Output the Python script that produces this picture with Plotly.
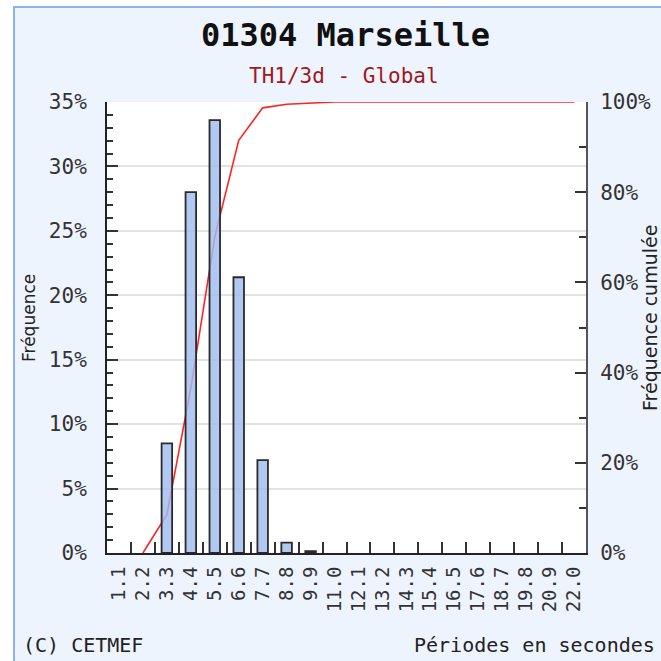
import plotly.graph_objects as go

# ---- data ----
periods = ["1.1", "2.2", "3.3", "4.4", "5.5", "6.6", "7.7", "8.8", "9.9", "11.0",
           "12.1", "13.2", "14.3", "15.4", "16.5", "17.6", "18.7", "19.8", "20.9", "22.0"]
frequency = [0, 0, 8.5, 28.0, 33.6, 21.4, 7.2, 0.8, 0.15, 0,
             0, 0, 0, 0, 0, 0, 0, 0, 0, 0]
cumulative = [None, 0, 8.5, 36.5, 70.1, 91.5, 98.7, 99.5, 99.8, 100,
              100, 100, 100, 100, 100, 100, 100, 100, 100, 100]
left_ticks = [0, 5, 10, 15, 20, 25, 30, 35]
right_ticks = [0, 20, 40, 60, 80, 100]

title_text = "01304 Marseille"
subtitle_text = "TH1/3d - Global"
left_title = "Fréquence"
right_title = "Fréquence cumulée"
footer_left = "(C) CETMEF"
footer_right = "Périodes en secondes"

# ---- layout geometry (pixels) ----
W = H = 661
L, R, T, B = 107, 586, 102, 553
pw, ph = R - L, B - T


def px(x):
    return (x - L) / pw


def py(y):
    return (B - y) / ph


MONO = "DejaVu Sans Mono"
SANS = "DejaVu Sans"
AX = "#333333"

# empty classes draw no bar at all
bar_values = [v if v > 0 else None for v in frequency]

fig = go.Figure()

fig.add_trace(go.Scatter(
    x=periods, y=cumulative, mode="lines", yaxis="y",
    line=dict(color="#ff2424", width=1.6), hoverinfo="skip", showlegend=False,
))
fig.add_trace(go.Bar(
    x=periods, y=bar_values, yaxis="y2", width=0.44,
    marker=dict(color="rgba(160,188,240,0.82)", line=dict(color="#2a2a2a", width=1.8)),
    showlegend=False,
))

fig.update_layout(
    width=W, height=H,
    margin=dict(l=L, r=W - R, t=T, b=H - B, autoexpand=False),
    paper_bgcolor="white", plot_bgcolor="white",
    showlegend=False,
    xaxis=dict(
        type="category", categoryorder="array", categoryarray=periods,
        tickmode="array", tickvals=periods, ticktext=periods,
        tickson="boundaries", ticks="inside", ticklen=11, tickwidth=2, tickcolor=AX,
        showline=True, linecolor="#222", linewidth=2, showgrid=False,
        tickangle=-90, tickfont=dict(family=MONO, size=19, color=AX),
        range=[-0.5, len(periods) - 0.5], zeroline=False, automargin=False,
        ticklabelstandoff=4,
    ),
    yaxis=dict(
        side="right", range=[0, 100], tickvals=right_ticks,
        ticktext=[f"{v}%" for v in right_ticks],
        ticks="inside", ticklen=11, tickwidth=2, tickcolor=AX,
        minor=dict(dtick=10, ticks="inside", ticklen=7, tickwidth=2, tickcolor=AX, showgrid=False),
        showline=True, linecolor="#555", linewidth=2, showgrid=False, zeroline=False,
        tickfont=dict(family=MONO, size=21, color=AX), ticklabelstandoff=8,
        automargin=False,
    ),
    yaxis2=dict(
        overlaying="y", side="left", range=[0, 35], tickvals=left_ticks,
        ticktext=[f"{v}%" for v in left_ticks],
        ticks="inside", ticklen=11, tickwidth=2, tickcolor=AX,
        minor=dict(dtick=1, ticks="inside", ticklen=6, tickwidth=2, tickcolor=AX, showgrid=False),
        showline=True, linecolor="#222", linewidth=2,
        showgrid=True, gridcolor="#e2e2e2", gridwidth=2, zeroline=False,
        tickfont=dict(family=MONO, size=21, color=AX), ticklabelstandoff=14,
        automargin=False,
    ),
)

shapes = [
    # light-blue panel
    dict(type="rect", xref="paper", yref="paper", layer="below",
         x0=px(14), x1=px(700), y0=py(700), y1=py(7),
         fillcolor="#eef4fe", line=dict(color="#8db1ee", width=2)),
    # white plot area
    dict(type="rect", xref="paper", yref="paper", layer="below",
         x0=0, x1=1, y0=0, y1=1, fillcolor="white", line=dict(width=0)),
]
fig.update_layout(shapes=shapes)

ann = [
    dict(text=f"<b>{title_text}</b>", x=px(345), y=py(35), font=dict(family=MONO, size=32, color="#111")),
    dict(text=subtitle_text, x=px(344), y=py(76), font=dict(family=MONO, size=21, color="#a0181c")),
    dict(text=footer_left, x=px(21), y=py(645), xanchor="left", font=dict(family=MONO, size=20, color="#222")),
    dict(text=footer_right, x=px(657), y=py(645), xanchor="right", font=dict(family=MONO, size=20, color="#222")),
    dict(text=left_title, x=px(29), y=py(318), textangle=-90, font=dict(family=SANS, size=17, color="#222")),
    dict(text=right_title, x=px(650), y=py(318), textangle=-90, font=dict(family=SANS, size=19, color="#222")),
]
for a in ann:
    a.setdefault("xanchor", "center")
    a.update(xref="paper", yref="paper", yanchor="middle", showarrow=False)
fig.update_layout(annotations=ann)

fig.write_html(
    "out.html",
    config={"displayModeBar": False},
    post_script="document.body.style.margin='0';document.body.style.overflow='hidden';",
)
